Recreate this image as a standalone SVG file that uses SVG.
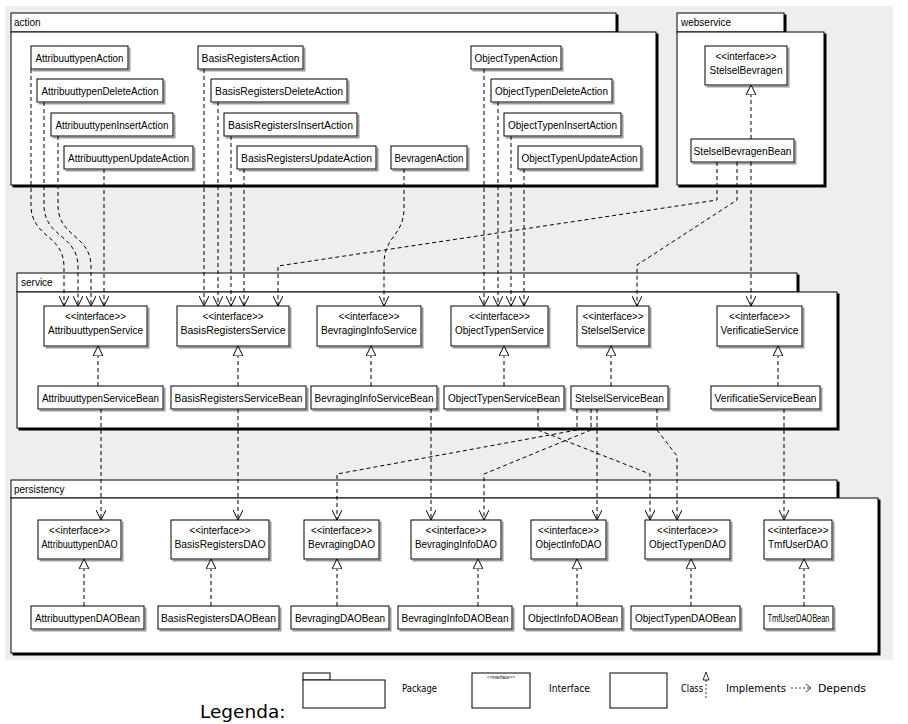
<svg xmlns="http://www.w3.org/2000/svg" width="908" height="724" viewBox="0 0 908 724">
<style>
.bg{fill:#eeeeee}
.box{fill:#fff;stroke:#000;stroke-width:1;filter:url(#sh)}
.pkg{fill:#fff;stroke:#000;stroke-width:1;filter:url(#psh)}
.t{font-family:"Liberation Sans",Arial,sans-serif;font-size:10px;text-anchor:middle;fill:#000}
.pl{font-family:"Liberation Sans",Arial,sans-serif;font-size:10px;fill:#000}
.dep{fill:none;stroke:#000;stroke-width:1;stroke-dasharray:4,3;marker-end:url(#open)}
.impl{fill:none;stroke:#000;stroke-width:1;stroke-dasharray:4,3;marker-end:url(#tri)}
.lg{font-family:"DejaVu Sans",Verdana,sans-serif;font-size:10px;fill:#000}
.lgb{fill:#fff;stroke:#000;stroke-width:1}
</style>
<defs>
<filter id="sh" x="-10%" y="-20%" width="130%" height="160%">
<feFlood flood-color="#9a9a9a"/><feComposite in2="SourceAlpha" operator="in"/><feOffset dx="2" dy="2"/>
<feMerge><feMergeNode/><feMergeNode in="SourceGraphic"/></feMerge>
</filter>
<filter id="psh" x="-5%" y="-20%" width="110%" height="160%">
<feFlood flood-color="#000"/><feComposite in2="SourceAlpha" operator="in"/><feOffset dx="2" dy="2"/>
<feMerge><feMergeNode/><feMergeNode in="SourceGraphic"/></feMerge>
</filter>
<marker id="open" viewBox="0 0 10 10" refX="10" refY="5" markerWidth="10" markerHeight="10" markerUnits="userSpaceOnUse" orient="auto">
<path d="M0,0 L10,5 L0,10" fill="none" stroke="#000" stroke-width="1" stroke-dasharray="none"/>
</marker>
<marker id="tri" viewBox="0 0 10 10" refX="10" refY="5" markerWidth="10" markerHeight="10" markerUnits="userSpaceOnUse" orient="auto">
<path d="M0,0 L10,5 L0,10 Z" fill="#fff" stroke="#000" stroke-width="1" stroke-dasharray="none"/>
</marker>
</defs>
<rect class="bg" x="5" y="6" width="888" height="654"/>

<!-- packages -->
<g id="pkg-action">
<rect class="pkg" x="11" y="13" width="605" height="19"/>
<rect class="pkg" x="11" y="32" width="645" height="153"/>
<text class="pl" x="14" y="26">action</text>
</g>
<g id="pkg-webservice">
<rect class="pkg" x="677" y="13" width="107" height="19"/>
<rect class="pkg" x="677" y="32" width="147" height="153"/>
<text class="pl" x="681" y="26">webservice</text>
</g>
<g id="pkg-service">
<rect class="pkg" x="17" y="273" width="780" height="19"/>
<rect class="pkg" x="17" y="292" width="820" height="136"/>
<text class="pl" x="21" y="286">service</text>
</g>
<g id="pkg-persistency">
<rect class="pkg" x="11" y="480" width="826" height="18"/>
<rect class="pkg" x="11" y="498" width="867" height="155"/>
<text class="pl" x="14" y="493">persistency</text>
</g>

<!-- action classes -->
<g id="AttribuuttypenAction"><rect class="box" x="31" y="46" width="97" height="23"/><text class="t" x="79.5" y="61.5" textLength="88" lengthAdjust="spacingAndGlyphs">AttribuuttypenAction</text></g>
<g id="AttribuuttypenDeleteAction"><rect class="box" x="37" y="79" width="126" height="23"/><text class="t" x="100" y="94.5" textLength="117" lengthAdjust="spacingAndGlyphs">AttribuuttypenDeleteAction</text></g>
<g id="AttribuuttypenInsertAction"><rect class="box" x="51" y="113" width="122" height="23"/><text class="t" x="112" y="128.5" textLength="113" lengthAdjust="spacingAndGlyphs">AttribuuttypenInsertAction</text></g>
<g id="AttribuuttypenUpdateAction"><rect class="box" x="64" y="146" width="129" height="23"/><text class="t" x="128.5" y="161.5" textLength="121" lengthAdjust="spacingAndGlyphs">AttribuuttypenUpdateAction</text></g>
<g id="BasisRegistersAction"><rect class="box" x="198" y="46" width="105" height="23"/><text class="t" x="250.5" y="61.5" textLength="98" lengthAdjust="spacingAndGlyphs">BasisRegistersAction</text></g>
<g id="BasisRegistersDeleteAction"><rect class="box" x="211" y="79" width="136" height="23"/><text class="t" x="279" y="94.5" textLength="128" lengthAdjust="spacingAndGlyphs">BasisRegistersDeleteAction</text></g>
<g id="BasisRegistersInsertAction"><rect class="box" x="224" y="113" width="133" height="23"/><text class="t" x="290.5" y="128.5" textLength="125" lengthAdjust="spacingAndGlyphs">BasisRegistersInsertAction</text></g>
<g id="BasisRegistersUpdateAction"><rect class="box" x="237" y="146" width="139" height="23"/><text class="t" x="306.5" y="161.5" textLength="131" lengthAdjust="spacingAndGlyphs">BasisRegistersUpdateAction</text></g>
<g id="BevragenAction"><rect class="box" x="391" y="146" width="76" height="23"/><text class="t" x="429" y="161.5" textLength="69" lengthAdjust="spacingAndGlyphs">BevragenAction</text></g>
<g id="ObjectTypenAction"><rect class="box" x="471" y="46" width="90" height="23"/><text class="t" x="516" y="61.5" textLength="83" lengthAdjust="spacingAndGlyphs">ObjectTypenAction</text></g>
<g id="ObjectTypenDeleteAction"><rect class="box" x="491" y="79" width="121" height="23"/><text class="t" x="551.5" y="94.5" textLength="113" lengthAdjust="spacingAndGlyphs">ObjectTypenDeleteAction</text></g>
<g id="ObjectTypenInsertAction"><rect class="box" x="504" y="113" width="117" height="23"/><text class="t" x="562.5" y="128.5" textLength="109" lengthAdjust="spacingAndGlyphs">ObjectTypenInsertAction</text></g>
<g id="ObjectTypenUpdateAction"><rect class="box" x="518" y="146" width="123" height="23"/><text class="t" x="579.5" y="161.5" textLength="116" lengthAdjust="spacingAndGlyphs">ObjectTypenUpdateAction</text></g>

<!-- webservice -->
<g id="StelselBevragen"><rect class="box" x="705" y="46" width="82" height="39"/><text class="t" x="746" y="60" textLength="61" lengthAdjust="spacingAndGlyphs">&lt;&lt;interface&gt;&gt;</text><text class="t" x="746" y="74" textLength="73" lengthAdjust="spacingAndGlyphs">StelselBevragen</text></g>
<g id="StelselBevragenBean"><rect class="box" x="691" y="139" width="103" height="23"/><text class="t" x="742.5" y="154.5" textLength="98" lengthAdjust="spacingAndGlyphs">StelselBevragenBean</text></g>

<!-- service interfaces -->
<g id="AttribuuttypenService"><rect class="box" x="44" y="306" width="103" height="40"/><text class="t" x="95.5" y="320" textLength="61" lengthAdjust="spacingAndGlyphs">&lt;&lt;interface&gt;&gt;</text><text class="t" x="95.5" y="334" textLength="95" lengthAdjust="spacingAndGlyphs">AttribuuttypenService</text></g>
<g id="BasisRegistersService"><rect class="box" x="177" y="306" width="112" height="40"/><text class="t" x="233" y="320" textLength="61" lengthAdjust="spacingAndGlyphs">&lt;&lt;interface&gt;&gt;</text><text class="t" x="233" y="334" textLength="105" lengthAdjust="spacingAndGlyphs">BasisRegistersService</text></g>
<g id="BevragingInfoService"><rect class="box" x="317" y="306" width="104" height="40"/><text class="t" x="369" y="320" textLength="61" lengthAdjust="spacingAndGlyphs">&lt;&lt;interface&gt;&gt;</text><text class="t" x="369" y="334" textLength="96" lengthAdjust="spacingAndGlyphs">BevragingInfoService</text></g>
<g id="ObjectTypenService"><rect class="box" x="451" y="306" width="97" height="40"/><text class="t" x="499.5" y="320" textLength="61" lengthAdjust="spacingAndGlyphs">&lt;&lt;interface&gt;&gt;</text><text class="t" x="499.5" y="334" textLength="89" lengthAdjust="spacingAndGlyphs">ObjectTypenService</text></g>
<g id="StelselService"><rect class="box" x="577" y="306" width="72" height="40"/><text class="t" x="613" y="320" textLength="61" lengthAdjust="spacingAndGlyphs">&lt;&lt;interface&gt;&gt;</text><text class="t" x="613" y="334" textLength="64" lengthAdjust="spacingAndGlyphs">StelselService</text></g>
<g id="VerificatieService"><rect class="box" x="717" y="306" width="85" height="40"/><text class="t" x="759.5" y="320" textLength="61" lengthAdjust="spacingAndGlyphs">&lt;&lt;interface&gt;&gt;</text><text class="t" x="759.5" y="334" textLength="78" lengthAdjust="spacingAndGlyphs">VerificatieService</text></g>

<!-- service beans -->
<g id="AttribuuttypenServiceBean"><rect class="box" x="38" y="386" width="125" height="23"/><text class="t" x="100.5" y="401.5" textLength="117" lengthAdjust="spacingAndGlyphs">AttribuuttypenServiceBean</text></g>
<g id="BasisRegistersServiceBean"><rect class="box" x="171" y="386" width="135" height="23"/><text class="t" x="238.5" y="401.5" textLength="128" lengthAdjust="spacingAndGlyphs">BasisRegistersServiceBean</text></g>
<g id="BevragingInfoServiceBean"><rect class="box" x="311" y="386" width="126" height="23"/><text class="t" x="374" y="401.5" textLength="119" lengthAdjust="spacingAndGlyphs">BevragingInfoServiceBean</text></g>
<g id="ObjectTypenServiceBean"><rect class="box" x="444" y="386" width="120" height="23"/><text class="t" x="504" y="401.5" textLength="112" lengthAdjust="spacingAndGlyphs">ObjectTypenServiceBean</text></g>
<g id="StelselServiceBean"><rect class="box" x="571" y="386" width="97" height="23"/><text class="t" x="619.5" y="401.5" textLength="89" lengthAdjust="spacingAndGlyphs">StelselServiceBean</text></g>
<g id="VerificatieServiceBean"><rect class="box" x="711" y="386" width="109" height="23"/><text class="t" x="765.5" y="401.5" textLength="102" lengthAdjust="spacingAndGlyphs">VerificatieServiceBean</text></g>

<!-- persistency interfaces -->
<g id="AttribuuttypenDAO"><rect class="box" x="38" y="520" width="83" height="39"/><text class="t" x="79.5" y="534" textLength="61" lengthAdjust="spacingAndGlyphs">&lt;&lt;interface&gt;&gt;</text><text class="t" x="79.5" y="548" textLength="76" lengthAdjust="spacingAndGlyphs">AttribuuttypenDAO</text></g>
<g id="BasisRegistersDAO"><rect class="box" x="171" y="520" width="98" height="39"/><text class="t" x="220" y="534" textLength="61" lengthAdjust="spacingAndGlyphs">&lt;&lt;interface&gt;&gt;</text><text class="t" x="220" y="548" textLength="91" lengthAdjust="spacingAndGlyphs">BasisRegistersDAO</text></g>
<g id="BevragingDAO"><rect class="box" x="304" y="520" width="75" height="39"/><text class="t" x="341.5" y="534" textLength="61" lengthAdjust="spacingAndGlyphs">&lt;&lt;interface&gt;&gt;</text><text class="t" x="341.5" y="548" textLength="67" lengthAdjust="spacingAndGlyphs">BevragingDAO</text></g>
<g id="BevragingInfoDAO"><rect class="box" x="411" y="520" width="90" height="39"/><text class="t" x="456" y="534" textLength="61" lengthAdjust="spacingAndGlyphs">&lt;&lt;interface&gt;&gt;</text><text class="t" x="456" y="548" textLength="82" lengthAdjust="spacingAndGlyphs">BevragingInfoDAO</text></g>
<g id="ObjectInfoDAO"><rect class="box" x="531" y="520" width="75" height="39"/><text class="t" x="568.5" y="534" textLength="61" lengthAdjust="spacingAndGlyphs">&lt;&lt;interface&gt;&gt;</text><text class="t" x="568.5" y="548" textLength="66" lengthAdjust="spacingAndGlyphs">ObjectInfoDAO</text></g>
<g id="ObjectTypenDAO"><rect class="box" x="645" y="520" width="85" height="39"/><text class="t" x="687.5" y="534" textLength="61" lengthAdjust="spacingAndGlyphs">&lt;&lt;interface&gt;&gt;</text><text class="t" x="687.5" y="548" textLength="77" lengthAdjust="spacingAndGlyphs">ObjectTypenDAO</text></g>
<g id="TmfUserDAO"><rect class="box" x="764" y="520" width="68" height="39"/><text class="t" x="798" y="534" textLength="61" lengthAdjust="spacingAndGlyphs">&lt;&lt;interface&gt;&gt;</text><text class="t" x="798" y="548" textLength="60" lengthAdjust="spacingAndGlyphs">TmfUserDAO</text></g>

<!-- persistency beans -->
<g id="AttribuuttypenDAOBean"><rect class="box" x="31" y="606" width="113" height="23"/><text class="t" x="87.5" y="621.5" textLength="105" lengthAdjust="spacingAndGlyphs">AttribuuttypenDAOBean</text></g>
<g id="BasisRegistersDAOBean"><rect class="box" x="158" y="606" width="121" height="23"/><text class="t" x="218.5" y="621.5" textLength="115" lengthAdjust="spacingAndGlyphs">BasisRegistersDAOBean</text></g>
<g id="BevragingDAOBean"><rect class="box" x="291" y="606" width="98" height="23"/><text class="t" x="340" y="621.5" textLength="90" lengthAdjust="spacingAndGlyphs">BevragingDAOBean</text></g>
<g id="BevragingInfoDAOBean"><rect class="box" x="398" y="606" width="114" height="23"/><text class="t" x="455" y="621.5" textLength="107" lengthAdjust="spacingAndGlyphs">BevragingInfoDAOBean</text></g>
<g id="ObjectInfoDAOBean"><rect class="box" x="524" y="606" width="98" height="23"/><text class="t" x="573" y="621.5" textLength="90" lengthAdjust="spacingAndGlyphs">ObjectInfoDAOBean</text></g>
<g id="ObjectTypenDAOBean"><rect class="box" x="631" y="606" width="109" height="23"/><text class="t" x="685.5" y="621.5" textLength="101" lengthAdjust="spacingAndGlyphs">ObjectTypenDAOBean</text></g>
<g id="TmfUserDAOBean"><rect class="box" x="764" y="606" width="69" height="23"/><text class="t" x="798.5" y="621.5" textLength="62" lengthAdjust="spacingAndGlyphs">TmfUserDAOBean</text></g>

<!-- connectors -->
<g id="connectors">
<path class="dep" d="M31,69 V205 C31,238 64,234 64,267 V306"/>
<path class="dep" d="M44,102 V205 C44,238 78,234 78,267 V306"/>
<path class="dep" d="M58,136 V205 C58,238 91,234 91,267 V306"/>
<path class="dep" d="M104,169 V306"/>
<path class="dep" d="M204,69 V306"/>
<path class="dep" d="M218,102 V306"/>
<path class="dep" d="M231,136 V306"/>
<path class="dep" d="M244,169 V306"/>
<path class="dep" d="M404,169 V208 C404,236 384,236 384,264 V306"/>
<path class="dep" d="M484,69 V306"/>
<path class="dep" d="M498,102 V306"/>
<path class="dep" d="M511,136 V306"/>
<path class="dep" d="M524,169 V306"/>
<path class="dep" d="M717,162 V200 L278,266 V306"/>
<path class="dep" d="M737,162 V200 L637,265 V306"/>
<path class="dep" d="M751,162 V306"/>

<path class="impl" d="M751,139 V85"/>
<path class="impl" d="M98,386 V346"/>
<path class="impl" d="M238,386 V346"/>
<path class="impl" d="M371,386 V346"/>
<path class="impl" d="M504,386 V346"/>
<path class="impl" d="M611,386 V346"/>
<path class="impl" d="M778,386 V346"/>

<path class="dep" d="M101,409 V520"/>
<path class="dep" d="M238,409 V520"/>
<path class="dep" d="M431,409 V520"/>
<path class="dep" d="M538,409 V430 L650,474 V520"/>
<path class="dep" d="M577,409 V430 L337,474 V520"/>
<path class="dep" d="M591,409 V430 L484,474 V520"/>
<path class="dep" d="M597,409 V520"/>
<path class="dep" d="M657,409 V430 L677,456 V520"/>
<path class="dep" d="M784,409 V520"/>

<path class="impl" d="M84,606 V559"/>
<path class="impl" d="M211,606 V559"/>
<path class="impl" d="M337,606 V559"/>
<path class="impl" d="M478,606 V559"/>
<path class="impl" d="M577,606 V559"/>
<path class="impl" d="M691,606 V559"/>
<path class="impl" d="M804,606 V559"/>
</g>

<!-- legend -->
<g id="legend">
<text x="200" y="718" style="font-family:'DejaVu Sans',Verdana,sans-serif;font-size:18.5px">Legenda:</text>
<rect class="lgb" x="303" y="673" width="27" height="7"/>
<rect class="lgb" x="303" y="680" width="82" height="28"/>
<text class="lg" x="402" y="692" textLength="35" lengthAdjust="spacingAndGlyphs">Package</text>
<rect class="lgb" x="472" y="673" width="58" height="35"/>
<text x="501" y="679" style="font-family:'Liberation Sans',Arial,sans-serif;font-size:4.5px;text-anchor:middle">&lt;&lt;interface&gt;&gt;</text>
<text class="lg" x="549" y="692" textLength="41" lengthAdjust="spacingAndGlyphs">Interface</text>
<rect class="lgb" x="610" y="673" width="57" height="35"/>
<text class="lg" x="681" y="692" textLength="22" lengthAdjust="spacingAndGlyphs">Class</text>
<path d="M706,672 L709,680 L703,680 Z" fill="#fff" stroke="#000" stroke-width="0.8"/>
<path d="M706,680 V700" stroke="#000" stroke-width="0.8" stroke-dasharray="2,2" fill="none"/>
<text class="lg" x="726" y="692" textLength="60" lengthAdjust="spacingAndGlyphs">Implements</text>
<path d="M791,688 H810" stroke="#000" stroke-width="0.8" stroke-dasharray="2,2" fill="none"/>
<path d="M806,684 L811,688 L806,692" stroke="#000" stroke-width="0.8" fill="none"/>
<text class="lg" x="818" y="692" textLength="48" lengthAdjust="spacingAndGlyphs">Depends</text>
</g>
</svg>
